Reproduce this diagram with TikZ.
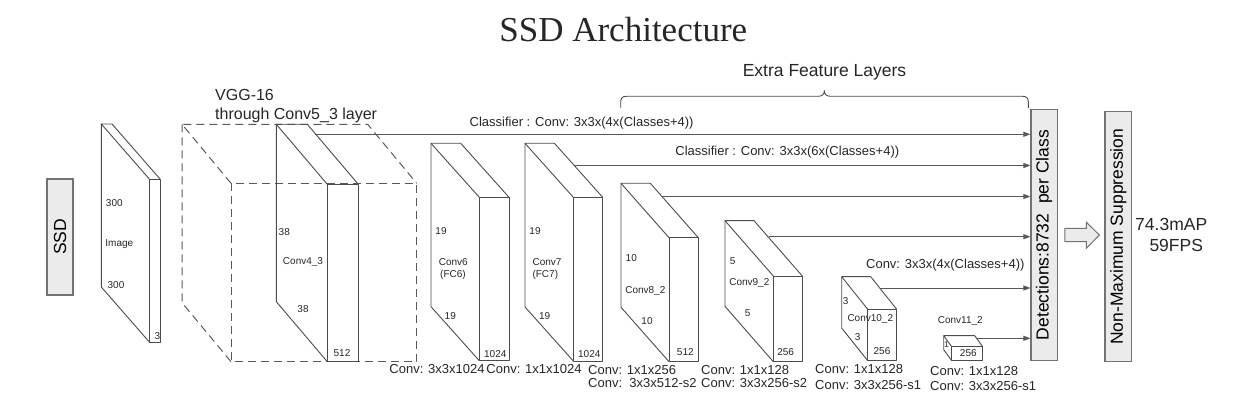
\documentclass[tikz,border=0pt]{standalone}
\usepackage{fontspec}
\setmainfont{Liberation Sans}
\newfontfamily\titlefont{Liberation Serif}
\usetikzlibrary{calc,arrows.meta}

\tikzset{
  edge/.style={draw=black!70, line width=0.9pt, line join=round},
  vgg/.style={draw=black!65, line width=1pt, dash pattern=on 8pt off 5pt},
  tiny/.style={font=\fontsize{8.5}{10}\selectfont, inner sep=0pt, text=black!85},
  small/.style={font=\fontsize{10}{12}\selectfont, inner sep=0pt, text=black!85},
  mid/.style={font=\fontsize{13}{15}\selectfont, inner sep=0pt, text=black!85},
  big/.style={font=\fontsize{17.5}{20}\selectfont, inner sep=0pt, text=black!85},
  vgglab/.style={font=\fontsize{16}{18}\selectfont, inner sep=0pt, text=black!85, anchor=west},
  panel/.style={draw=black!55, fill=black!8, line width=1.2pt, inner sep=0pt},
  arr/.style={draw=black!65, line width=0.9pt, -{Triangle[length=7pt,width=5pt]}},
}

% #1 style, #2 name, #3 x1, #4 x2, #5 top y, #6 bottom y, #7 dx, #8 dy
\newcommand\ssdbox[8][edge]{%
  \coordinate (#2-ftl) at (#3,#5);
  \coordinate (#2-ftr) at (#4,#5);
  \coordinate (#2-fbl) at (#3,#6);
  \coordinate (#2-fbr) at (#4,#6);
  \coordinate (#2-btl) at ($(#2-ftl)+(#7,#8)$);
  \coordinate (#2-btr) at ($(#2-ftr)+(#7,#8)$);
  \coordinate (#2-bbl) at ($(#2-fbl)+(#7,#8)$);
  \draw[#1] (#2-ftl) rectangle (#2-fbr);
  \draw[#1] (#2-ftl) -- (#2-btl) -- (#2-btr) -- (#2-ftr);
  \draw[#1] (#2-btl) -- (#2-bbl) -- (#2-fbl);
}

\begin{document}
\begin{tikzpicture}[x=1pt,y=-1pt]
\useasboundingbox (0,0) rectangle (1247,419);

% title
\node[font=\titlefont\fontsize{35}{40}\selectfont, text=black!85, inner sep=0pt, anchor=base] (title) at (623.3,42) {SSD Architecture};

% SSD box
\node[panel, minimum width=26pt, minimum height=116pt] (ssd) at (60,237) {\rotatebox{90}{\fontsize{17.5}{20}\selectfont SSD}};

% image
\ssdbox{img}{149.3}{160}{179}{342}{-48}{-55}
\node[small] (l300a) at (114.3,203) {300};
\node[small] (limg) at (119.3,244) {Image};
\node[small] (l300b) at (116,285.3) {300};
\node[small] (l3) at (157.3,336.5) {3};

% VGG dashed box
\ssdbox[vgg]{vgg}{231}{416.7}{183.3}{361.7}{-49}{-59}
\node[vgglab] (vgg1) at (215,95) {VGG-16};
\node[vgglab] (vgg2) at (215,115) {through Conv5\_3 layer};

% Conv4_3
\ssdbox{c43}{327.3}{358.3}{184.3}{361.7}{-51}{-60}
\node[small] (c43a) at (284.3,231.7) {38};
\node[small] (c43n) at (303,262.3) {Conv4\_3};
\node[small] (c43b) at (303,309.3) {38};
\node[small] (c43c) at (342,353.3) {512};

% Conv6
\ssdbox{c6}{479.3}{509}{197.3}{360.7}{-48.3}{-54}
\node[small] (c6a) at (441,230.7) {19};
\node[small] (c6n) at (453.3,261.7) {Conv6};
\node[small] (c6f) at (453,275) {(FC6)};
\node[small] (c6b) at (450.3,316) {19};
\node[small] (c6c) at (495.3,354) {1024};
\node[mid] (c6k) at (437,369) {Conv: 3x3x1024};

% Conv7
\ssdbox{c7}{573.3}{602.7}{197.3}{361}{-48.3}{-54}
\node[small] (c7a) at (535,230.7) {19};
\node[small] (c7n) at (547,261.7) {Conv7};
\node[small] (c7f) at (545.3,275) {(FC7)};
\node[small] (c7b) at (544.7,316) {19};
\node[small] (c7c) at (589.3,354) {1024};
\node[mid] (c7k) at (534,369) {Conv: 1x1x1024};

% Conv8_2
\ssdbox{c8}{669}{698.3}{237.7}{361.7}{-48}{-54.4}
\node[small] (c8a) at (631.3,258.3) {10};
\node[small] (c8n) at (645.3,290.7) {Conv8\_2};
\node[small] (c8b) at (647,321) {10};
\node[small] (c8c) at (685.3,351.7) {512};
\node[mid, anchor=west] (c8k1) at (588,370) {Conv: 1x1x256};
\node[mid, anchor=west] (c8k2) at (588,383.5) {Conv:\ \ 3x3x512-s2};

% Conv9_2
\ssdbox{c9}{773.3}{802.3}{276}{361.7}{-48.3}{-55.3}
\node[small] (c9a) at (732.7,260.7) {5};
\node[small] (c9n) at (749.3,282.7) {Conv9\_2};
\node[small] (c9b) at (747.7,313.3) {5};
\node[small] (c9c) at (785.7,352.3) {256};
\node[mid, anchor=west] (c9k1) at (701,370) {Conv: 1x1x128};
\node[mid, anchor=west] (c9k2) at (701,383.5) {Conv: 3x3x256-s2};

% Conv10_2
\ssdbox{c10}{867.7}{896.7}{309.3}{360.7}{-26}{-32.6}
\node[small] (c10a) at (845.7,300.7) {3};
\node[small] (c10n) at (870.3,319.3) {Conv10\_2};
\node[small] (c10b) at (857.7,336.7) {3};
\node[small] (c10c) at (882,351) {256};
\node[mid, anchor=west] (c10k1) at (815,369.5) {Conv: 1x1x128};
\node[mid, anchor=west] (c10k2) at (815,385) {Conv: 3x3x256-s1};
\node[mid] (c10cls) at (945.3,265) {Conv: 3x3x(4x(Classes+4))};

% Conv11_2
\ssdbox{c11}{951.7}{982.7}{346.7}{360.7}{-8}{-11}
\node[tiny] (c11a) at (946.5,344.5) {1};
\node[small] (c11c) at (968.3,353.5) {256};
\node[small] (c11n) at (960.3,320.7) {Conv11\_2};
\node[mid, anchor=west] (c11k1) at (930,370.7) {Conv: 1x1x128};
\node[mid, anchor=west] (c11k2) at (930,385.7) {Conv: 3x3x256-s1};

% detections and NMS
\node[panel, minimum width=26.3pt, minimum height=251.4pt] (det) at (1044.2,235) {\rotatebox{90}{\fontsize{17.5}{20}\selectfont Detections:8732\ \ per Class}};
\node[panel, minimum width=26.7pt, minimum height=250pt] (nms) at (1118.3,236.7) {\rotatebox{90}{\fontsize{17.5}{20}\selectfont Non-Maximum Suppression}};
\node[big, anchor=west] (map) at (1135,224) {74.3mAP};
\node[big, anchor=west] (fps) at (1149.3,245) {59FPS};

% block arrow
\draw[panel, line width=1pt] ($(det.east)+(7,-6.7)$) -- ++(21.4,0) -- ++(0,-6) -- ($(nms.west|-det.east)+(-5,0)$) -- ($(det.east)+(28.4,13.3)$) -- ++(0,-6.7) -- ($(det.east)+(7,6.7)$) -- cycle;

% brace + label
\draw[edge] (620.7,108) -- (620.7,102) .. controls (620.7,98) and (622.5,96.3) .. (626.5,96.3) -- (818,96.3) .. controls (822,96.3) and (824.3,94.5) .. (824.3,90.7) .. controls (824.3,94.5) and (826.6,96.3) .. (830.6,96.3) -- (1022.5,96.3) .. controls (1026.5,96.3) and (1028.3,98) .. (1028.3,102) -- (1028.3,108);
\node[big] (extra) at (824.5,72.3) {Extra Feature Layers};

% classifier labels
\node[mid] (cls1) at (581.6,123.3) {Classifier : Conv: 3x3x(4x(Classes+4))};
\node[mid] (cls2) at (787.3,151.7) {Classifier : Conv: 3x3x(6x(Classes+4))};

% arrow start points
\coordinate (s1) at (315,134.3);
\coordinate (s2) at (573.7,165.5);
\coordinate (s3) at (662,196.5);
\coordinate (s4) at (769,236.7);
\coordinate (s5) at (880,288);
\coordinate (s6) at (976.6,338.3);
\foreach \s in {s1,s2,s3,s4,s5,s6}
  \draw[arr] (\s) -- (\s -| det.west);
\end{tikzpicture}
\end{document}
